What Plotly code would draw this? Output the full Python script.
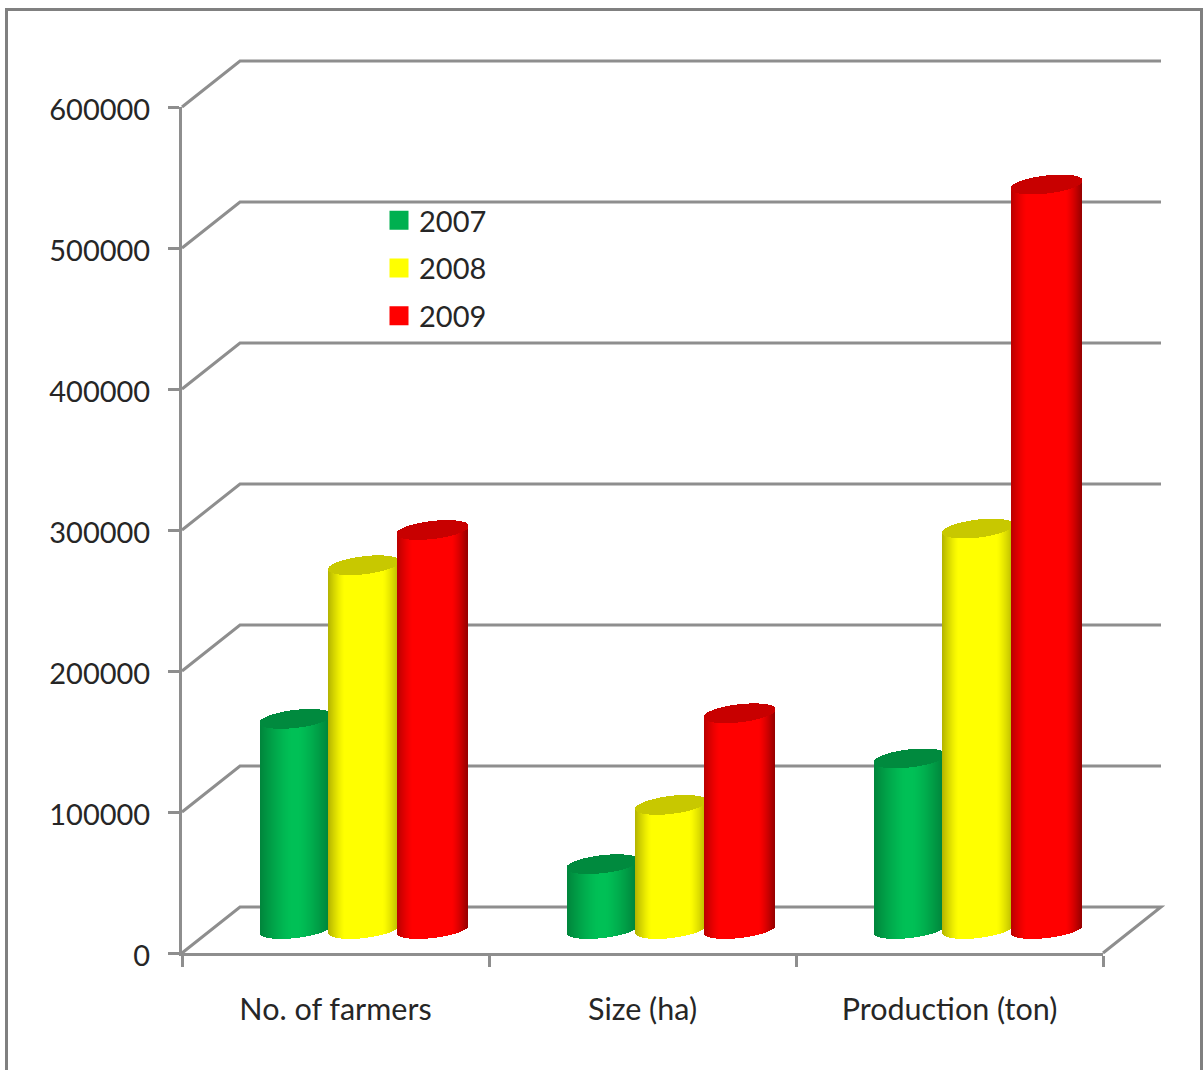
import numpy as np
import plotly.graph_objects as go

# ---- data ----
categories = ["No. of farmers", "Size (ha)", "Production (ton)"]
years = ["2007", "2008", "2009"]
values_2007 = [149000, 46000, 121000]
values_2008 = [258000, 88000, 284000]
values_2009 = [283000, 153000, 528000]
y_ticks = [0, 100000, 200000, 300000, 400000, 500000, 600000]

# ---- styles ----
series = [values_2007, values_2008, values_2009]
legend_colors = ["#00B050", "#FFFF00", "#FF0000"]
body_colors = [(0, 192, 86), (255, 255, 0), (255, 0, 0)]
cap_colors = ["#008A3E", "#C8C800", "#C80000"]
edge_dark = [(0.68, 0.66), (0.70, 0.72), (0.70, 0.58)]
flat_part = [0.12, 0.55, 0.55]
GRAY = "#8E8E8E"
TEXT = "#262626"
FONT = "Lato"

W, H = 1204, 1070
L, R, T, B = 182, 101, 107, 117
X_MAX, Y_MAX = 3, 600000
PX_X = X_MAX / (W - L - R)          # data units per pixel
PX_Y = Y_MAX / (H - T - B)
WALL_DX, WALL_DY = 58 * PX_X, 46 * PX_Y
BAR_SHIFT = 28.5 * PX_X             # bars stand half way into the floor
BAR_STEP = 68.5 * PX_X
BAR_R = 35.5 * PX_X
BAR_FLOOR = 24 * PX_Y
ELL_B, ELL_K = 9 * PX_Y, 4 * PX_Y   # half height and tilt of the ellipses
N = 72


def shade(rgb, u, dark, flat):
    left, right = dark
    d = 1 - left if u < 0 else 1 - right
    t = max(0.0, (abs(u) - flat) / (1 - flat)) ** 1.3
    f = 1 - d * t
    return "rgb(%d,%d,%d)" % tuple(int(c * f) for c in rgb)


fig = go.Figure()
us = (np.arange(N) + 0.5) / N * 2 - 1
for s, vals in enumerate(series):
    bx, bw, bb, bh, bc = [], [], [], [], []
    cb, ch = [], []
    for c, v in enumerate(vals):
        cx = c + 0.5 + BAR_SHIFT + (s - 1) * BAR_STEP
        for u in us:
            root = np.sqrt(1 - u ** 2)
            lo = BAR_FLOOR + ELL_K * u - ELL_B * root
            top = BAR_FLOOR + v + ELL_K * u
            bx.append(cx + u * BAR_R)
            bw.append(2 * BAR_R / N)
            bb.append(lo)
            bh.append(top - lo)
            bc.append(shade(body_colors[s], u, edge_dark[s], flat_part[s]))
            cb.append(top - ELL_B * root)
            ch.append(2 * ELL_B * root)
    fig.add_bar(x=bx, y=bh, base=bb, width=bw, marker=dict(color=bc, line_width=0),
                showlegend=False, hoverinfo="skip", cliponaxis=False)
    fig.add_bar(x=bx, y=ch, base=cb, width=bw, marker=dict(color=cap_colors[s], line_width=0),
                showlegend=False, hoverinfo="skip", cliponaxis=False)

for name, col in zip(years, legend_colors):
    fig.add_scatter(x=[None], y=[None], mode="markers", name=name, legendgroup=name,
                    marker=dict(symbol="square", size=16, color=col, line=dict(color=col, width=3)))

# back wall, side wall and floor lines, below the cylinders
shapes = []
line = dict(color=GRAY, width=3)
for v in y_ticks:
    px0, py0 = 0, v / Y_MAX
    px1, py1 = WALL_DX / X_MAX, (v + WALL_DY) / Y_MAX
    px2 = 1 + WALL_DX / X_MAX
    path = f"M {px0} {py0} L {px1} {py1} L {px2} {py1}"
    if v == 0:
        path += " L 1 0"
    shapes.append(dict(type="path", xref="paper", yref="paper", layer="below",
                       path=path, line=line))

# outer frame
fx = lambda p: (p - L) / (W - L - R)
fy = lambda p: 1 - (p - T) / (H - T - B)
shapes.append(dict(type="path", xref="paper", yref="paper", layer="below",
                   path=f"M {fx(6.5)} {fy(1072)} L {fx(6.5)} {fy(9.5)} L {fx(1201.5)} {fy(9.5)} L {fx(1201.5)} {fy(1072)}",
                   line=dict(color="#808080", width=3)))

fig.update_layout(
    width=W, height=H, autosize=False,
    margin=dict(l=L, r=R, t=T, b=B, pad=0),
    paper_bgcolor="white", plot_bgcolor="rgba(0,0,0,0)",
    barmode="overlay", bargap=0,
    shapes=shapes,
    font=dict(family=FONT, size=29, color=TEXT),
    legend=dict(x=fx(379), y=fy(195), xanchor="left", yanchor="top",
                bgcolor="rgba(0,0,0,0)", tracegroupgap=7, itemclick=False, itemdoubleclick=False,
                font=dict(family=FONT, size=29, color=TEXT)),
    xaxis=dict(range=[0, X_MAX], tickmode="array", tickvals=[0.5, 1.5, 2.5], ticktext=categories,
               ticks="", showgrid=False, zeroline=False, showline=True, linecolor=GRAY, linewidth=3,
               ticklabelstandoff=27, tickfont=dict(family=FONT, size=30.5, color=TEXT),
               minor=dict(tickmode="array", tickvals=[0, 1, 2, 3], ticks="outside", ticklen=11,
                          tickwidth=3, tickcolor=GRAY, showgrid=False)),
    yaxis=dict(range=[0, Y_MAX], tickmode="array", tickvals=y_ticks, ticktext=[str(v) for v in y_ticks],
               ticks="outside", ticklen=11, tickwidth=3, tickcolor=GRAY, showgrid=False, zeroline=False,
               showline=True, linecolor=GRAY, linewidth=3, ticklabelstandoff=12, ticklabelshift=3,
               tickfont=dict(family=FONT, size=29, color=TEXT)),
)
fig.write_html("out.html", config=dict(displayModeBar=False),
               post_script="document.body.style.margin='0';document.documentElement.style.overflow='hidden';")
